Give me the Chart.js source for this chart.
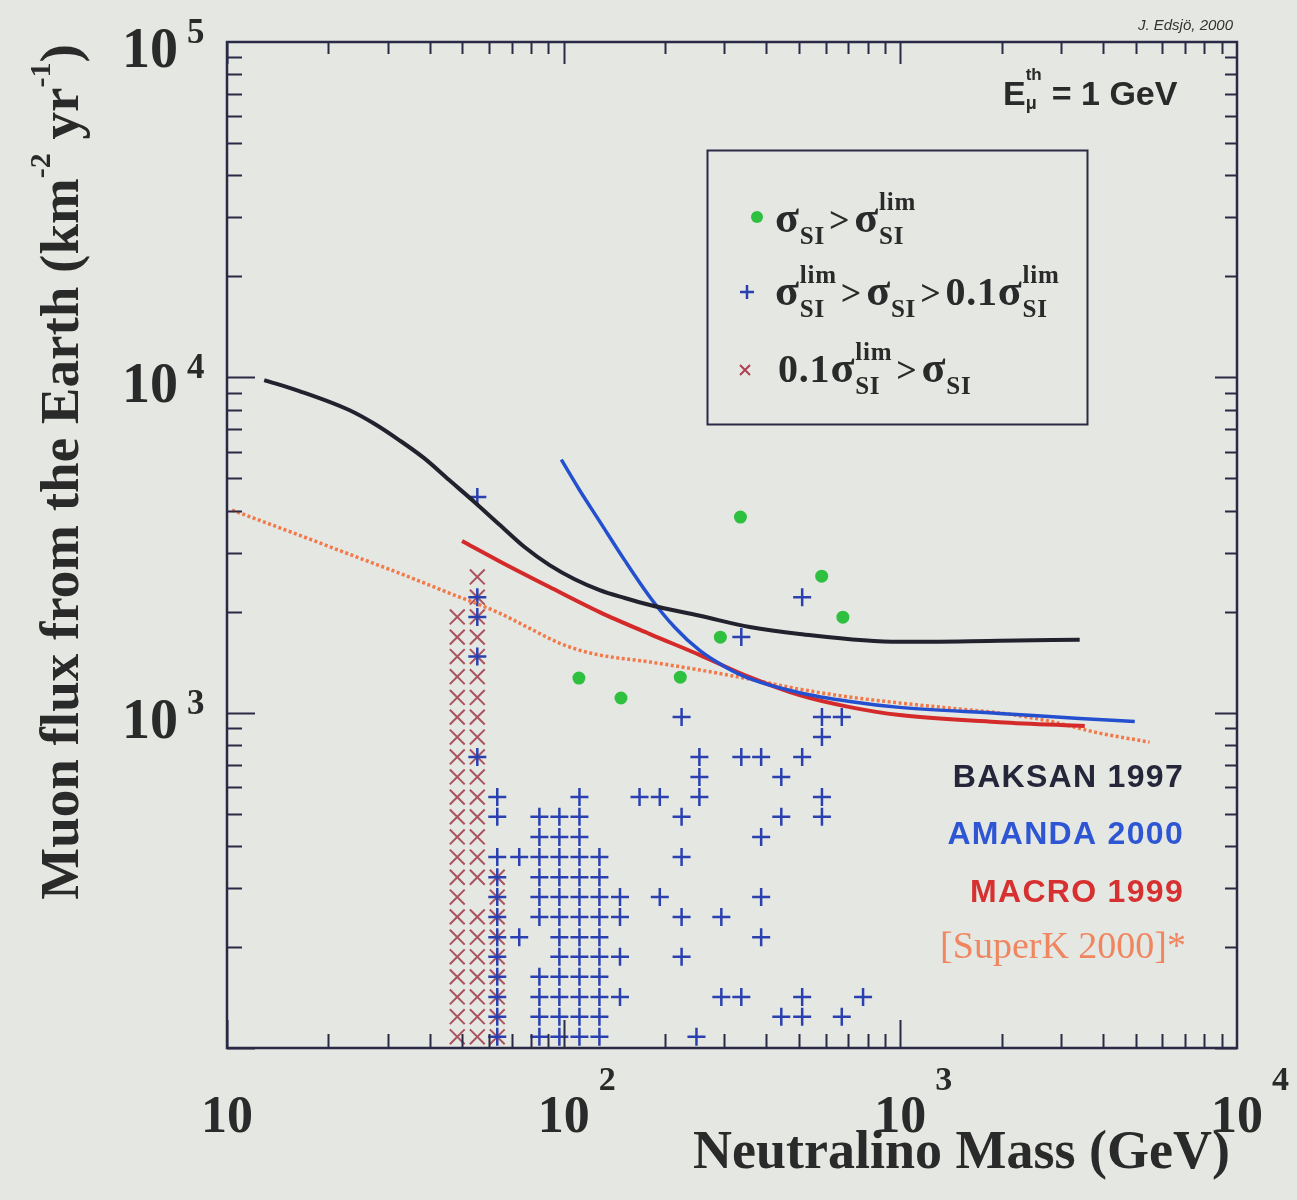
<!DOCTYPE html>
<html><head><meta charset="utf-8">
<script src="https://cdn.jsdelivr.net/npm/chart.js@4/dist/chart.umd.min.js"></script>
<style>html,body{margin:0;padding:0;background:#e4e7e2;}canvas{display:block;}</style>
</head><body>
<canvas id="c" width="1297" height="1200"></canvas>
<script>
// ---------------- data ----------------
const baksanMass = [12.9, 16.4, 23.05, 27.4, 32.45, 38.5, 45.7, 54.3, 64.4, 76.5, 90.8, 107.8, 127.9, 151.9, 180.5, 254, 357, 502, 995, 1970, 3410];
const baksanFlux = [9810, 9100, 7990, 7270, 6500, 5740, 4940, 4250, 3640, 3118, 2754, 2500, 2321, 2198, 2094, 1945, 1800, 1717, 1626, 1638, 1650];

const amandaMass = [98.4, 111.2, 127.9, 151.7, 180.5, 214, 254, 301, 357, 502, 708, 995, 1970, 3410, 4970];
const amandaFlux = [5680, 4630, 3720, 2850, 2210, 1794, 1530, 1371, 1263, 1147, 1080, 1037, 995, 961, 941];

const macroMass = [49.9, 64.4, 90.8, 127.9, 180.5, 254, 357, 502, 708, 995, 1970, 3530];
const macroFlux = [3250, 2830, 2370, 1995, 1715, 1485, 1276, 1128, 1039, 984, 937, 912];

const superkMass = [10.35, 16.37, 23.05, 32.45, 45.7, 64.4, 79.0, 97.0, 111.2, 127.9, 180.5, 254, 357, 502, 708, 995, 1400, 1970, 2770, 3900, 5500];
const superkFlux = [4020, 3385, 2970, 2608, 2274, 1982, 1787, 1613, 1537, 1485, 1416, 1340, 1259, 1175, 1113, 1069, 1032, 998, 944, 869, 817];

// sigma_SI > sigma_lim (green dots)
const greenMass = [111, 148, 222, 292, 335, 584, 675];
const greenFlux = [1268, 1106, 1276, 1679, 3830, 2553, 1927];

// sigma_lim > sigma_SI > 0.1 sigma_lim (blue +)
const plusMass = [
  55.4, 55.4, 55.4, 55.4, 55.4,
  63.5, 63.5, 63.5, 63.5, 63.5, 63.5, 63.5, 63.5, 63.5, 63.5, 63.5, 63.5,
  73.8, 73.8,
  84.7, 84.7, 84.7, 84.7, 84.7, 84.7, 84.7, 84.7, 84.7, 84.7,
  97.1, 97.1, 97.1, 97.1, 97.1, 97.1, 97.1, 97.1, 97.1, 97.1, 97.1, 97.1,
  111.4, 111.4, 111.4, 111.4, 111.4, 111.4, 111.4, 111.4, 111.4, 111.4, 111.4, 111.4, 111.4,
  127.7, 127.7, 127.7, 127.7, 127.7, 127.7, 127.7, 127.7, 127.7, 127.7,
  147, 147, 147, 147,
  168, 193, 193, 224, 224, 224, 224, 224, 253, 253, 253, 248,
  294, 294, 337, 337, 337, 386, 386, 386, 386, 443, 443, 443,
  511, 511, 511, 511, 585, 585, 585, 585, 670, 670, 775
];
const plusFlux = [
  4400, 2210, 1930, 1470, 738,
  560, 489, 371, 323, 282, 246, 214, 187, 163, 142, 124, 108,
  371, 214,
  489, 426, 371, 323, 282, 246, 163, 142, 124, 108,
  489, 426, 371, 323, 282, 246, 214, 187, 163, 142, 124, 108,
  560, 489, 426, 371, 323, 282, 246, 214, 187, 163, 142, 124, 108,
  371, 323, 282, 246, 214, 187, 163, 142, 124, 108,
  282, 246, 187, 142,
  560, 560, 282, 971, 489, 371, 246, 187, 738, 643, 560, 108,
  246, 142, 1680, 738, 142, 738, 426, 282, 214, 643, 489, 124,
  2210, 738, 142, 124, 971, 846, 560, 489, 971, 124, 142
];

// 0.1 sigma_lim > sigma_SI (red x)
const crossMass = [
  48.3, 48.3, 48.3, 48.3, 48.3, 48.3, 48.3, 48.3, 48.3, 48.3, 48.3, 48.3, 48.3, 48.3, 48.3, 48.3, 48.3, 48.3, 48.3, 48.3, 48.3, 48.3,
  55.4, 55.4, 55.4, 55.4, 55.4, 55.4, 55.4, 55.4, 55.4, 55.4, 55.4, 55.4, 55.4, 55.4, 55.4, 55.4, 55.4, 55.4, 55.4, 55.4, 55.4, 55.4, 55.4,
  63.5, 63.5, 63.5, 63.5, 63.5, 63.5, 63.5, 63.5, 63.5
];
const crossFlux = [
  1930, 1680, 1470, 1280, 1110, 970, 846, 738, 643, 560, 489, 426, 371, 323, 282, 246, 214, 187, 163, 142, 124, 108,
  2540, 2210, 1930, 1680, 1470, 1280, 1110, 970, 846, 738, 643, 560, 489, 426, 371, 323, 246, 214, 187, 163, 142, 124, 108,
  323, 282, 246, 214, 187, 163, 142, 124, 108
];

// axes
const xMajorTicks = [10, 100, 1000, 10000];
const xTickExp = ['', '2', '3', '4'];
const yMajorTicks = [100, 1000, 10000, 100000];
const yTickExp = ['', '3', '4', '5'];

const seriesNames = ['BAKSAN 1997', 'AMANDA 2000', 'MACRO 1999', '[SuperK 2000]*'];
const xTitle = 'Neutralino Mass (GeV)';
const yTitleParts = ['Muon flux from the Earth (km', '-2', ' yr', '-1', ')'];
const credit = 'J. Edsjö, 2000';

// ---------------- drawing ----------------
const FRAME = '#2a2a46';
const SERIF = '"Liberation Serif", "Times New Roman", serif';
const SANS = '"Liberation Sans", Arial, sans-serif';
const pts = (xs, ys) => xs.map((x, i) => ({x: x, y: ys[i]}));

function richWidth(ctx, parts) {
  let w = 0;
  for (const p of parts) {
    if (p.stack) {
      let m = 0;
      for (const s of p.stack) { ctx.font = s.f; m = Math.max(m, ctx.measureText(s.t).width); }
      w += m + (p.gap || 0);
    } else { ctx.font = p.f; w += ctx.measureText(p.t).width + (p.gap || 0); }
  }
  return w;
}
function rich(ctx, x, y, parts) {
  let cx = x;
  ctx.textAlign = 'left';
  for (const p of parts) {
    if (p.stack) {
      let m = 0;
      for (const s of p.stack) { ctx.font = s.f; ctx.fillText(s.t, cx, y + (s.dy || 0)); m = Math.max(m, ctx.measureText(s.t).width); }
      cx += m + (p.gap || 0);
    } else { ctx.font = p.f; ctx.fillText(p.t, cx, y + (p.dy || 0)); cx += ctx.measureText(p.t).width + (p.gap || 0); }
  }
}

const bgPlugin = {
  id: 'bg',
  beforeDraw(chart) {
    const ctx = chart.ctx;
    ctx.save(); ctx.fillStyle = '#e4e7e2'; ctx.fillRect(0, 0, chart.width, chart.height); ctx.restore();
  }
};

const decorPlugin = {
  id: 'decor',
  afterDraw(chart) {
    const ctx = chart.ctx, a = chart.chartArea, xs = chart.scales.x, ys = chart.scales.y;
    ctx.save();
    // frame
    ctx.strokeStyle = FRAME; ctx.lineWidth = 2.5;
    ctx.strokeRect(a.left, a.top, a.right - a.left, a.bottom - a.top);
    // ticks
    ctx.lineWidth = 2;
    ctx.beginPath();
    for (let i = 0; i < xMajorTicks.length - 1; i++) for (let k = 1; k < 10; k++) {
      const p = Math.round(xs.getPixelForValue(xMajorTicks[i] * k)) + 0.5;
      const lb = k === 1 ? 28 : 14, lt = k === 1 ? 22 : 12;
      ctx.moveTo(p, a.bottom); ctx.lineTo(p, a.bottom - lb);
      ctx.moveTo(p, a.top); ctx.lineTo(p, a.top + lt);
    }
    for (let i = 0; i < yMajorTicks.length - 1; i++) for (let k = 1; k < 10; k++) {
      const p = Math.round(ys.getPixelForValue(yMajorTicks[i] * k)) + 0.5;
      const ll = k === 1 ? 28 : 15, lr = k === 1 ? 22 : 12;
      ctx.moveTo(a.left, p); ctx.lineTo(a.left + ll, p);
      ctx.moveTo(a.right, p); ctx.lineTo(a.right - lr, p);
    }
    ctx.stroke();

    // tick labels
    ctx.fillStyle = '#2a2a2a';
    const baseF = 'bold 52px ' + SERIF, expF = 'bold 34px ' + SERIF;
    for (let i = 0; i < xMajorTicks.length; i++) {
      const p = xs.getPixelForValue(xMajorTicks[i]);
      ctx.font = baseF; const w = ctx.measureText('10').width;
      ctx.font = expF; const we = xTickExp[i] ? ctx.measureText(xTickExp[i]).width : 0;
      let cx = p;
      const right = cx + w / 2 + 9 + we;
      if (right > 1291) cx -= right - 1291;
      ctx.font = baseF; ctx.textAlign = 'center'; ctx.fillText('10', cx, 1132);
      if (xTickExp[i]) { ctx.font = expF; ctx.textAlign = 'left'; ctx.fillText(xTickExp[i], cx + w / 2 + 9, 1090); }
    }
    const yBaseF = 'bold 56px ' + SERIF, yExpF = 'bold 35px ' + SERIF;
    for (let i = 0; i < yMajorTicks.length; i++) {
      if (!yTickExp[i]) continue;
      const p = ys.getPixelForValue(yMajorTicks[i]);
      ctx.font = yBaseF; ctx.textAlign = 'right'; ctx.fillText('10', 178, p + 25);
      ctx.font = yExpF; ctx.textAlign = 'left'; ctx.fillText(yTickExp[i], 187, p + 1);
    }

    // axis titles
    ctx.fillStyle = '#2a2a2a';
    ctx.font = 'bold 54px ' + SERIF; ctx.textAlign = 'right';
    ctx.fillText(xTitle, 1230, 1168);
    const tf = 'bold 55px ' + SERIF, sf = 'bold 30px ' + SERIF;
    const yParts = [
      {t: yTitleParts[0], f: tf}, {t: yTitleParts[1], f: sf, dy: -28},
      {t: yTitleParts[2], f: tf}, {t: yTitleParts[3], f: sf, dy: -28},
      {t: yTitleParts[4], f: tf}
    ];
    ctx.save();
    ctx.translate(78, 472); ctx.rotate(-Math.PI / 2);
    const yw = richWidth(ctx, yParts);
    rich(ctx, -yw / 2, 0, yParts);
    ctx.restore();

    // credit + threshold
    ctx.font = 'italic 15px ' + SANS; ctx.textAlign = 'right'; ctx.fillStyle = '#333';
    ctx.fillText(credit, 1233, 30);
    ctx.fillStyle = '#2a2a2a';
    rich(ctx, 1003, 105, [
      {t: 'E', f: 'bold 34px ' + SANS},
      {stack: [{t: 'th', f: 'bold 17px ' + SANS, dy: -25}, {t: 'μ', f: 'bold 18px ' + SANS, dy: 4}], gap: 10},
      {t: '= 1 GeV', f: 'bold 34px ' + SANS}
    ]);

    // series labels
    ctx.textAlign = 'right';
    if (ctx.letterSpacing !== undefined) ctx.letterSpacing = '1.3px';
    ctx.font = 'bold 32px ' + SANS;
    ctx.fillStyle = '#26263a'; ctx.fillText(seriesNames[0], 1184, 787);
    ctx.fillStyle = '#2e56d4'; ctx.fillText(seriesNames[1], 1184, 844);
    ctx.fillStyle = '#d63030'; ctx.fillText(seriesNames[2], 1184, 902);
    if (ctx.letterSpacing !== undefined) ctx.letterSpacing = '0px';
    ctx.font = '38px ' + SERIF; ctx.fillStyle = '#f08660';
    ctx.fillText(seriesNames[3], 1186, 958);

    // legend box
    ctx.strokeStyle = FRAME; ctx.lineWidth = 2;
    ctx.strokeRect(707.5, 150.5, 380, 274);
    const L = 'bold 44px ' + SERIF, D = 'bold 40px ' + SERIF, S = 'bold 25px ' + SERIF, G = 'bold 36px ' + SERIF;
    const gt = {t: '>', f: G, gap: 4};
    const lim = (sub) => ({stack: [{t: 'lim', f: S, dy: -22}, {t: 'SI', f: S, dy: 12}], gap: sub ? 4 : 0});
    const si = {stack: [{t: 'SI', f: S, dy: 12}], gap: 4};
    if (ctx.letterSpacing !== undefined) ctx.letterSpacing = '0.8px';
    // line 1
    ctx.fillStyle = '#30c040'; ctx.beginPath(); ctx.arc(757, 217, 6, 0, Math.PI * 2); ctx.fill();
    ctx.fillStyle = '#2a2a2a';
    rich(ctx, 775, 232, [{t: 'σ', f: L}, si, gt, {t: 'σ', f: L}, lim(false)]);
    // line 2
    ctx.strokeStyle = '#2a40b0'; ctx.lineWidth = 2.5; ctx.beginPath();
    ctx.moveTo(740, 292); ctx.lineTo(754, 292); ctx.moveTo(747, 285); ctx.lineTo(747, 299); ctx.stroke();
    rich(ctx, 775, 305, [{t: 'σ', f: L}, lim(true), gt, {t: 'σ', f: L}, si, gt, {t: '0.1', f: D}, {t: 'σ', f: L}, lim(false)]);
    // line 3
    ctx.strokeStyle = '#b04050'; ctx.lineWidth = 2; ctx.beginPath();
    ctx.moveTo(740, 365); ctx.lineTo(750, 375); ctx.moveTo(750, 365); ctx.lineTo(740, 375); ctx.stroke();
    rich(ctx, 778, 382, [{t: '0.1', f: D}, {t: 'σ', f: L}, lim(true), gt, {t: 'σ', f: L}, si]);
    if (ctx.letterSpacing !== undefined) ctx.letterSpacing = '0px';
    ctx.restore();
  }
};

const lineDs = (label, xs, ys, color, width, dash) => ({
  label: label, data: pts(xs, ys), showLine: true, borderColor: color, backgroundColor: color,
  borderWidth: width, borderDash: dash || [], pointRadius: 0, tension: 0.4,
  cubicInterpolationMode: 'monotone', fill: false
});

new Chart(document.getElementById('c'), {
  type: 'scatter',
  data: {
    datasets: [
      lineDs(seriesNames[0], baksanMass, baksanFlux, '#22222e', 4),
      lineDs(seriesNames[1], amandaMass, amandaFlux, '#2450d0', 3.5),
      lineDs(seriesNames[2], macroMass, macroFlux, '#d42a2a', 4),
      lineDs(seriesNames[3], superkMass, superkFlux, '#f27a4a', 3.5, [3, 2.5]),
      {label: 'σSI > σSIlim', data: pts(greenMass, greenFlux), pointStyle: 'circle', pointRadius: 6.5,
       backgroundColor: '#30c040', borderColor: '#30c040', borderWidth: 0},
      {label: 'σSIlim > σSI > 0.1σSIlim', data: pts(plusMass, plusFlux), pointStyle: 'cross', pointRadius: 9,
       borderColor: '#2a40b0', backgroundColor: '#2a40b0', borderWidth: 2.5},
      {label: '0.1σSIlim > σSI', data: pts(crossMass, crossFlux), pointStyle: 'crossRot', pointRadius: 10.5,
       borderColor: 'rgba(160,55,70,0.85)', backgroundColor: 'rgba(160,55,70,0.85)', borderWidth: 2}
    ]
  },
  options: {
    responsive: false, animation: false, devicePixelRatio: 1,
    layout: {padding: {left: 227, top: 42, right: 60, bottom: 152}},
    plugins: {legend: {display: false}, tooltip: {enabled: false}},
    scales: {
      x: {type: 'logarithmic', min: 10, max: 10000, display: false},
      y: {type: 'logarithmic', min: 100, max: 100000, display: false}
    }
  },
  plugins: [bgPlugin, decorPlugin]
});
</script>
</body></html>
